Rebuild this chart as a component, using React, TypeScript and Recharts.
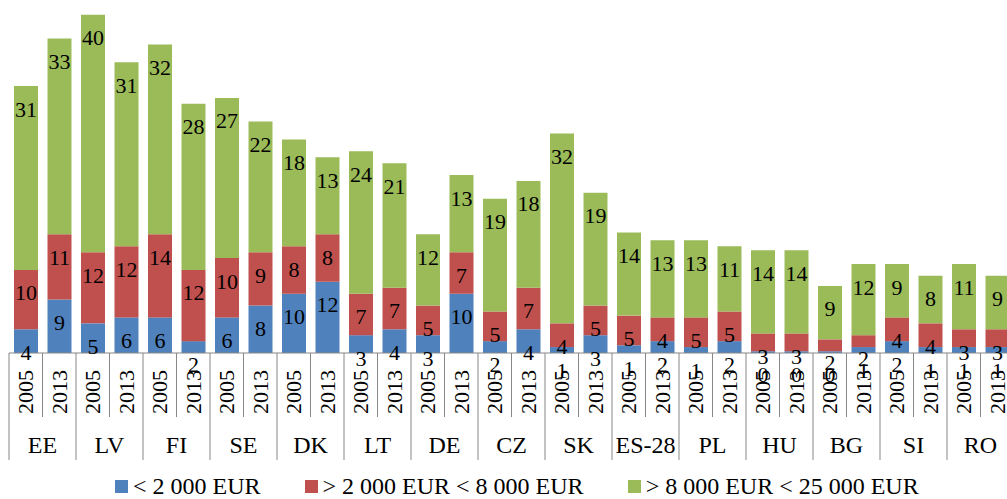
import { BarChart, Bar, XAxis, YAxis, LabelList, Legend } from "recharts";

const countries = ["EE", "LV", "FI", "SE", "DK", "LT", "DE", "CZ", "SK", "ES-28", "PL", "HU", "BG", "SI", "RO"];
const years = ["2005", "2013"];

// one value per bar: EE 2005, EE 2013, LV 2005, ...
const under2000 = [4, 9, 5, 6, 6, 2, 6, 8, 10, 12, 3, 4, 3, 10, 2, 4, 1, 3, 1.3, 2, 1, 2, 0.3, 0.3, 0.3, 1, 2, 1, 1, 1];
const from2000to8000 = [10, 11, 12, 12, 14, 12, 10, 9, 8, 8, 7, 7, 5, 7, 5, 7, 4, 5, 5, 4, 5, 5, 3, 3, 2, 2, 4, 4, 3, 3];
const from8000to25000 = [31, 33, 40, 31, 32, 28, 27, 22, 18, 13, 24, 21, 12, 13, 19, 18, 32, 19, 14, 13, 13, 11, 14, 14, 9, 12, 9, 8, 11, 9];

const seriesNames = ["< 2 000 EUR", "> 2 000 EUR < 8 000 EUR", "> 8 000 EUR < 25 000 EUR"];
const colors = ["#4F81BD", "#C0504D", "#9BBB59"];

const rows = countries.flatMap((country, c) =>
  years.map((year, y) => {
    const i = c * 2 + y;
    return {
      key: `${country} ${year}`,
      country,
      year,
      low: under2000[i],
      mid: from2000to8000[i],
      high: from8000to25000[i],
    };
  })
);

const FONT = '"Liberation Serif", "Times New Roman", serif';
const PLOT_WIDTH = 1005;
const BAND = PLOT_WIDTH / rows.length;
const GRID = "#878787";

function TwoLevelTick(props: any) {
  const { x, y, index } = props;
  const row = rows[index];
  if (!row) return null;
  const left = x - BAND / 2;
  const first = index % 2 === 0;
  return (
    <g>
      <line x1={left} x2={left} y1={y} y2={y + (first ? 107 : 64)} stroke={GRID} />
      {index === rows.length - 1 && (
        <line x1={x + BAND / 2} x2={x + BAND / 2} y1={y} y2={y + 107} stroke={GRID} />
      )}
      <text
        transform={`translate(${x},${y + 39}) rotate(-90)`}
        textAnchor="middle"
        dominantBaseline="central"
        fontSize={22}
        fontFamily={FONT}
        fill="#000"
      >
        {row.year}
      </text>
      {!first && (
        <text
          x={left}
          y={y + 92}
          textAnchor="middle"
          dominantBaseline="central"
          fontSize={24}
          fontFamily={FONT}
          fill="#000"
        >
          {row.country}
        </text>
      )}
    </g>
  );
}

// Excel-style "inside end" label: sits just under the top of each segment
function SegmentLabel(props: any) {
  const { x, y, width, value } = props;
  if (value == null) return null;
  return (
    <text
      x={Number(x) + Number(width) / 2}
      y={Number(y) + 23}
      textAnchor="middle"
      dominantBaseline="central"
      fontSize={22}
      fontFamily={FONT}
      fill="#000"
    >
      {Math.round(Number(value))}
    </text>
  );
}

function LegendContent({ payload }: any) {
  return (
    <div
      style={{
        display: "flex",
        alignItems: "center",
        height: 26,
        paddingLeft: 106,
        fontFamily: FONT,
        fontSize: 24,
        color: "#000",
        whiteSpace: "nowrap",
      }}
    >
      {(payload || []).map((item: any, i: number) => (
        <div key={i} style={{ display: "flex", alignItems: "center", marginRight: 44 }}>
          <span style={{ width: 13, height: 13, background: item.color, marginRight: 5, display: "inline-block" }} />
          <span>{item.value}</span>
        </div>
      ))}
    </div>
  );
}

export default function App() {
  return (
    <div style={{ position: "absolute", left: 0, top: 0, width: 1007, height: 499, overflow: "hidden", background: "#fff" }}>
      <BarChart
        width={9 + PLOT_WIDTH}
        height={499}
        data={rows}
        margin={{ top: 0, right: 0, left: 9, bottom: 0 }}
        barSize={24}
      >
        <XAxis
          dataKey="key"
          interval={0}
          height={120}
          tickSize={0}
          tickMargin={0}
          tickLine={false}
          axisLine={{ stroke: GRID }}
          tick={<TwoLevelTick />}
        />
        <YAxis hide domain={[0, 59.5]} />
        <Legend verticalAlign="bottom" content={<LegendContent />} />
        <Bar dataKey="low" name={seriesNames[0]} stackId="a" fill={colors[0]} isAnimationActive={false}>
          <LabelList dataKey="low" content={<SegmentLabel />} />
        </Bar>
        <Bar dataKey="mid" name={seriesNames[1]} stackId="a" fill={colors[1]} isAnimationActive={false}>
          <LabelList dataKey="mid" content={<SegmentLabel />} />
        </Bar>
        <Bar dataKey="high" name={seriesNames[2]} stackId="a" fill={colors[2]} isAnimationActive={false}>
          <LabelList dataKey="high" content={<SegmentLabel />} />
        </Bar>
      </BarChart>
    </div>
  );
}
